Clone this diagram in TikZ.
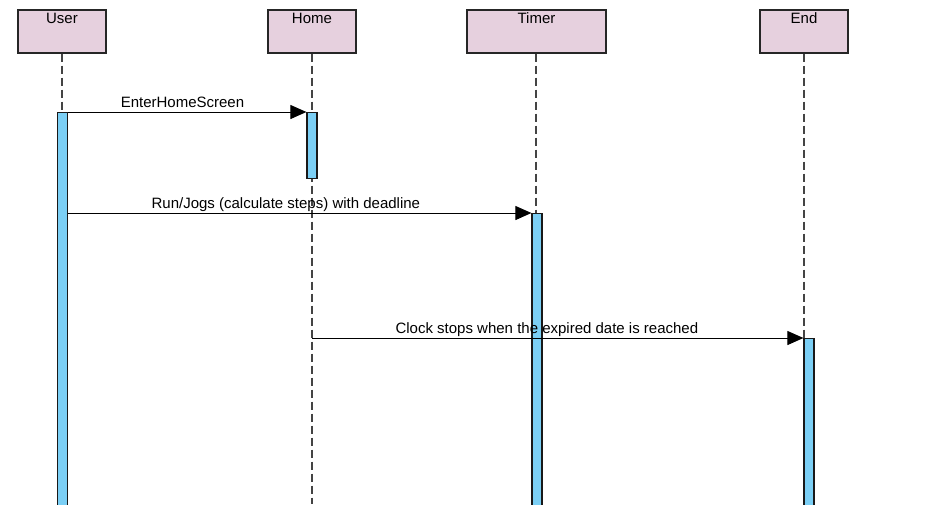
\documentclass[tikz,border=0pt]{standalone}
\usepackage{fontspec}
\setmainfont{Liberation Sans}
\usetikzlibrary{arrows.meta}
\definecolor{actorpink}{HTML}{E6D0DE}
\definecolor{barblue}{HTML}{7BCFF5}
\definecolor{lifegray}{HTML}{444444}
\begin{document}
\begin{tikzpicture}[x=1pt,y=-1pt,font=\fontsize{15}{18}\selectfont,
  actor/.style={draw=black!85,line width=1.3pt,fill=actorpink,minimum width=88pt,minimum height=43pt,inner sep=0pt},
  actorname/.style={anchor=north,inner sep=0pt,yshift=-3.5pt},
  bar/.style={draw=black!90,line width=1.2pt,fill=barblue,minimum width=10pt,inner sep=0pt,anchor=north},
  life/.style={lifegray,line width=1.4pt,dash pattern=on 8pt off 4pt},
  msg/.style={black,line width=1pt,-{Triangle[length=16pt,width=14pt]}},
  msglabel/.style={anchor=base,inner sep=0pt,yshift=4.5pt}]
\useasboundingbox (0,0) rectangle (929,504);
\coordinate (bottom) at (0,504);
\node[actor,label={[actorname]north:User}] (user) at (62,31.5) {};
\node[actor,label={[actorname]north:Home}] (home) at (312,31.5) {};
\node[actor,minimum width=139pt,label={[actorname]north:Timer}] (timer) at (536.5,31.5) {};
\node[actor,label={[actorname]north:End}] (end) at (804,31.5) {};
\draw[life] (user.south) -- (user.south |- bottom);
\draw[life] (home.south) -- (home.south |- bottom);
\draw[life] ([xshift=-0.5pt]timer.south) -- ([xshift=-0.5pt]timer.south |- bottom);
\draw[life] (end.south) -- (end.south |- bottom);
\node[bar,minimum height=400pt] (userbar) at (62.5,112) {};
\node[bar,minimum height=66pt] (homebar) at (312,112) {};
\node[bar,minimum height=300pt] (timerbar) at (537,213) {};
\node[bar,minimum height=175pt] (endbar) at (809,338) {};
\draw[msg] (userbar.north east) -- (homebar.north west)
  node[msglabel,pos=0.48] {EnterHomeScreen};
\draw[msg] (userbar.east |- timerbar.north) -- (timerbar.north west)
  node[msglabel,pos=0.47] {Run/Jogs (calculate steps) with deadline};
\draw[msg] (home.south |- endbar.north) -- (endbar.north west)
  node[msglabel,pos=0.478] {Clock stops when the expired date is reached};
\end{tikzpicture}
\end{document}
